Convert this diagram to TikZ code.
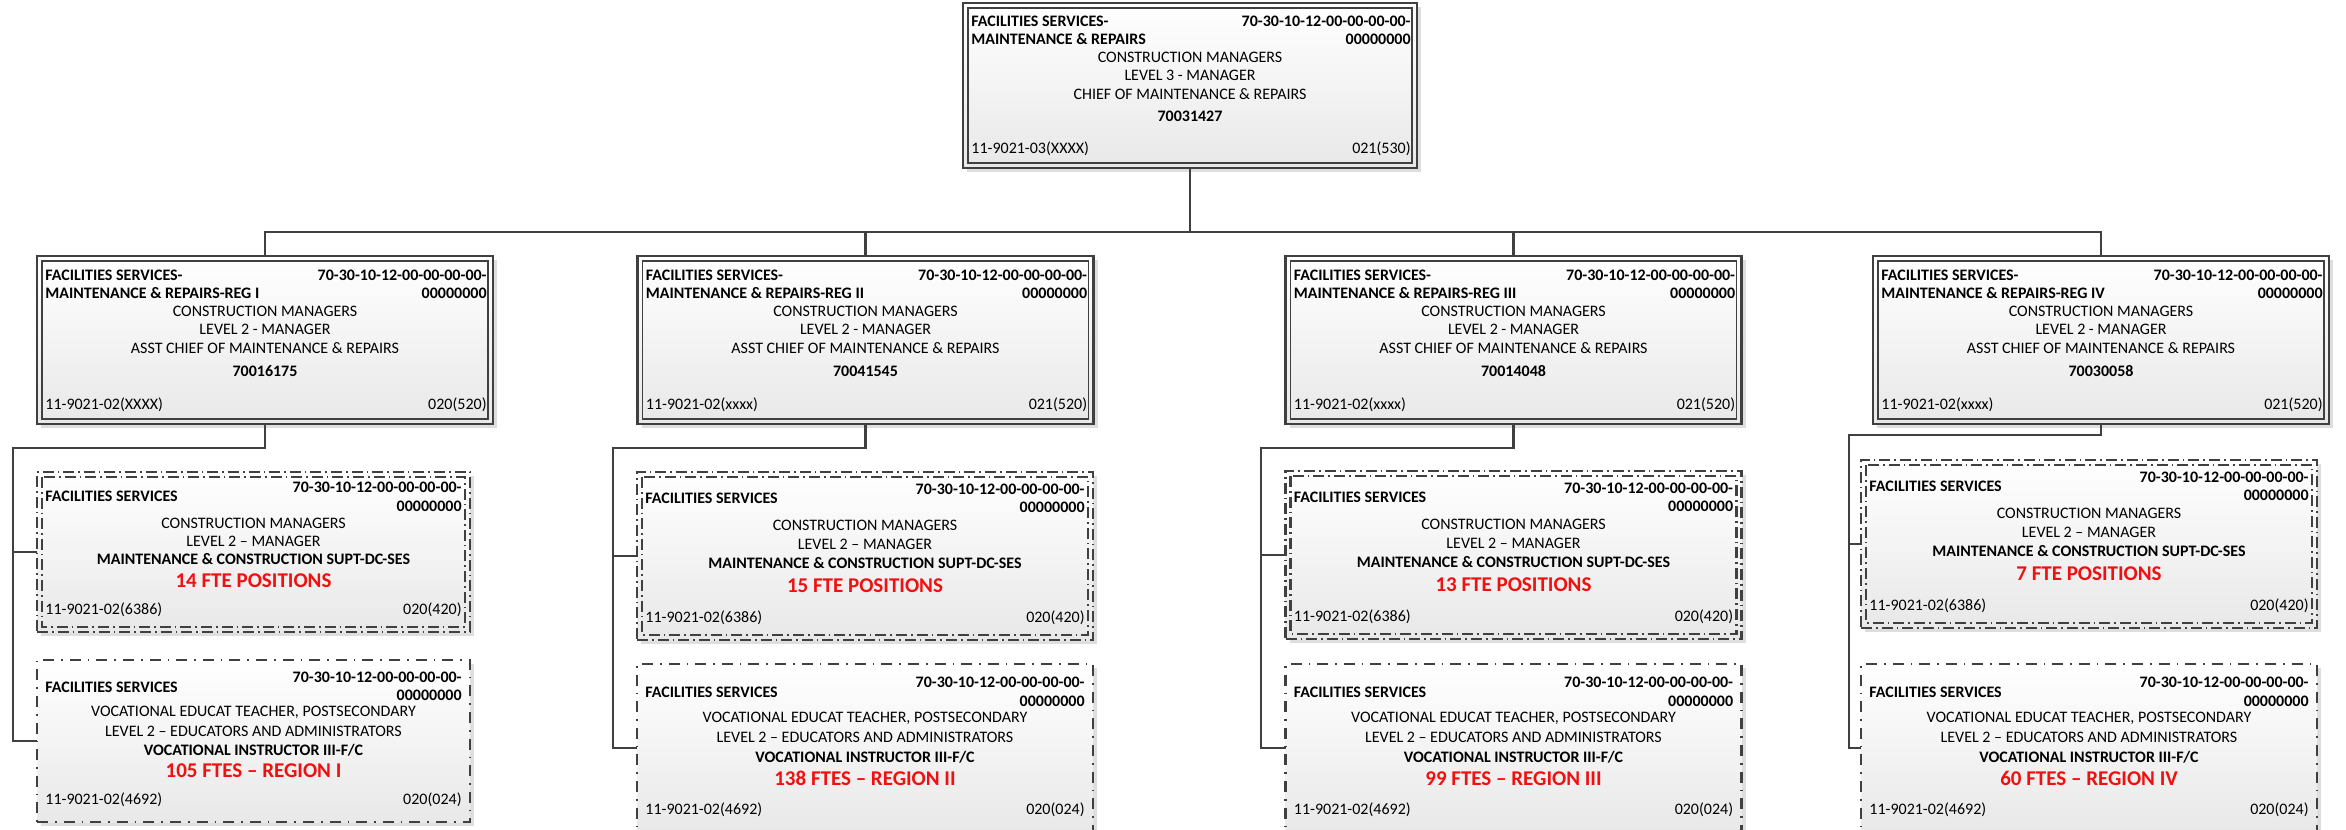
\documentclass[tikz,border=0pt]{standalone}
\usepackage{fontspec}
\setmainfont{Carlito}
\usetikzlibrary{calc,shadows}
\definecolor{lc}{HTML}{404040}
\definecolor{ftered}{HTML}{F01010}
\tikzset{
  conn/.style={draw=lc, line width=1.45pt},
  boxbase/.style={inner sep=0pt, outer sep=0pt, top color=white, bottom color=black!9,
    drop shadow={shadow xshift=2pt, shadow yshift=-2pt, fill=black!25, opacity=0.5}},
  solidbox/.style={boxbase, draw=lc, line width=1.4pt},
  innerframe/.style={draw=lc, line width=0.7pt},
  dashboxa/.style={boxbase, draw=lc, line width=1.1pt, dash pattern=on 5.5pt off 2pt on 0.8pt off 2pt},
  dashinner/.style={draw=lc, line width=1.1pt, dash pattern=on 5.5pt off 2pt on 0.8pt off 2pt},
  dashboxb/.style={boxbase, draw=lc, line width=1.1pt, dash pattern=on 5.5pt off 3.5pt on 0.8pt off 3.5pt},
  txt/.style={inner sep=0pt, font=\fontsize{8}{9}\selectfont},
  btxt/.style={inner sep=0pt, font=\fontsize{8}{9}\selectfont\bfseries},
  rtxt/.style={inner sep=0pt, text=ftered, font=\fontsize{10.5}{12}\selectfont\bfseries},
}
% solid box texts
\newcommand{\SolidText}[9]{%
  \draw[innerframe] ([shift={(2.5pt,-2.5pt)}]#1.north west) rectangle ([shift={(-2.5pt,2.5pt)}]#1.south east);
  \node[btxt, anchor=base west] (#1-l1) at ($(#1.north west)!0.143!(#1.south west)+(4pt,0)$) {#2};
  \node[btxt, anchor=base west] (#1-l2) at ($(#1.north west)!0.25!(#1.south west)+(4pt,0)$) {#3};
  \node[btxt, anchor=base east] (#1-r1) at ($(#1.north east)!0.143!(#1.south east)+(-3pt,0)$) {70-30-10-12-00-00-00-00-};
  \node[btxt, anchor=base east] (#1-r2) at ($(#1.north east)!0.25!(#1.south east)+(-3pt,0)$) {00000000};
  \node[txt, anchor=base] (#1-c1) at ($(#1.north)!0.363!(#1.south)$) {#4};
  \node[txt, anchor=base] (#1-c2) at ($(#1.north)!0.47!(#1.south)$) {#5};
  \node[txt, anchor=base] (#1-c3) at ($(#1.north)!0.583!(#1.south)$) {#6};
  \node[btxt, anchor=base] (#1-n) at ($(#1.north)!0.72!(#1.south)$) {#7};
  \node[txt, anchor=base west] (#1-b1) at ($(#1.north west)!0.911!(#1.south west)+(4pt,0)$) {#8};
  \node[txt, anchor=base east] (#1-b2) at ($(#1.north east)!0.911!(#1.south east)+(-3pt,0)$) {#9};
}
% dashed box A texts
\newcommand{\FteA}[2]{%
  \draw[dashinner] ([shift={(2.5pt,-2.5pt)}]#1.north west) rectangle ([shift={(-2.5pt,2.5pt)}]#1.south east);
  \node[btxt, anchor=base west] (#1-l1) at ($(#1.north west)!0.185!(#1.south west)+(4pt,0)$) {FACILITIES SERVICES};
  \node[btxt, anchor=base east] (#1-r1) at ($(#1.north east)!0.131!(#1.south east)+(-4pt,0)$) {70-30-10-12-00-00-00-00-};
  \node[btxt, anchor=base east] (#1-r2) at ($(#1.north east)!0.244!(#1.south east)+(-4pt,0)$) {00000000};
  \node[txt, anchor=base] (#1-c1) at ($(#1.north)!0.351!(#1.south)$) {CONSTRUCTION MANAGERS};
  \node[txt, anchor=base] (#1-c2) at ($(#1.north)!0.464!(#1.south)$) {LEVEL 2 – MANAGER};
  \node[btxt, anchor=base] (#1-c3) at ($(#1.north)!0.577!(#1.south)$) {MAINTENANCE \& CONSTRUCTION SUPT-DC-SES};
  \node[rtxt, anchor=base] (#1-n) at ($(#1.north)!0.72!(#1.south)$) {#2};
  \node[txt, anchor=base west] (#1-b1) at ($(#1.north west)!0.893!(#1.south west)+(4pt,0)$) {11-9021-02(6386)};
  \node[txt, anchor=base east] (#1-b2) at ($(#1.north east)!0.893!(#1.south east)+(-4pt,0)$) {020(420)};
}
% dashed box B texts
\newcommand{\FteB}[2]{%
  \node[btxt, anchor=base west] (#1-l1) at ($(#1.north west)!0.202!(#1.south west)+(4pt,0)$) {FACILITIES SERVICES};
  \node[btxt, anchor=base east] (#1-r1) at ($(#1.north east)!0.137!(#1.south east)+(-4pt,0)$) {70-30-10-12-00-00-00-00-};
  \node[btxt, anchor=base east] (#1-r2) at ($(#1.north east)!0.25!(#1.south east)+(-4pt,0)$) {00000000};
  \node[txt, anchor=base] (#1-c1) at ($(#1.north)!0.351!(#1.south)$) {VOCATIONAL EDUCAT TEACHER, POSTSECONDARY};
  \node[txt, anchor=base] (#1-c2) at ($(#1.north)!0.47!(#1.south)$) {LEVEL 2 – EDUCATORS AND ADMINISTRATORS};
  \node[btxt, anchor=base] (#1-c3) at ($(#1.north)!0.589!(#1.south)$) {VOCATIONAL INSTRUCTOR III-F/C};
  \node[rtxt, anchor=base] (#1-n) at ($(#1.north)!0.726!(#1.south)$) {#2};
  \node[txt, anchor=base west] (#1-b1) at ($(#1.north west)!0.893!(#1.south west)+(4pt,0)$) {11-9021-02(4692)};
  \node[txt, anchor=base east] (#1-b2) at ($(#1.north east)!0.893!(#1.south east)+(-4pt,0)$) {020(024)};
}
\begin{document}
\begin{tikzpicture}[x=0.5pt, y=-0.5pt]
\useasboundingbox (0,0) rectangle (2346,830);
\fill[white] (0,0) rectangle (2346,830);

% boxes (geometry)
\path node[solidbox, minimum width=227pt, minimum height=82.5pt] (top) at (1190,85.5) {};
\path node[solidbox, minimum width=228pt, minimum height=84pt] (r1) at (265,340) {};
\path node[solidbox, minimum width=228pt, minimum height=84pt] (r2) at (865.5,340) {};
\path node[solidbox, minimum width=228pt, minimum height=84pt] (r3) at (1513.5,340) {};
\path node[solidbox, minimum width=228pt, minimum height=84pt] (r4) at (2101,340) {};

\path node[dashboxa, minimum width=216.5pt, minimum height=80pt] (a1) at (253.5,552) {};
\path node[dashboxb, minimum width=216.5pt, minimum height=81pt] (b1) at (253.5,741) {};
\path node[dashboxa, minimum width=228pt, minimum height=84pt] (a2) at (865,556) {};
\path node[dashboxb, minimum width=228pt, minimum height=84pt] (b2) at (865,748) {};
\path node[dashboxa, minimum width=228pt, minimum height=84pt] (a3) at (1513.5,555) {};
\path node[dashboxb, minimum width=228pt, minimum height=84pt] (b3) at (1513.5,748) {};
\path node[dashboxa, minimum width=228pt, minimum height=84pt] (a4) at (2089,544) {};
\path node[dashboxb, minimum width=228pt, minimum height=84pt] (b4) at (2089,748) {};

% connectors
\coordinate (bus) at (1190,232);
\draw[conn] (top.south) -- (top.south |- bus);
\draw[conn] (r1.north) |- (r4.north |- bus) -- (r4.north);
\draw[conn] (r2.north) -- (r2.north |- bus);
\draw[conn] (r3.north) -- (r3.north |- bus);

\coordinate (c1) at (13,448);
\coordinate (c2) at (613,448);
\coordinate (c3) at (1261,448);
\coordinate (c4) at (1849,435);
\draw[conn] (r1.south) |- (c1) |- (a1.west);
\draw[conn] (c1) |- (b1.west);
\draw[conn] (r2.south) |- (c2) |- (a2.west);
\draw[conn] (c2) |- (b2.west);
\draw[conn] (r3.south) |- (c3) |- (a3.west);
\draw[conn] (c3) |- (b3.west);
\draw[conn] (r4.south) |- (c4) |- (a4.west);
\draw[conn] (c4) |- (b4.west);

% texts
\SolidText{top}{FACILITIES SERVICES-}{MAINTENANCE \& REPAIRS}{CONSTRUCTION MANAGERS}{LEVEL 3 - MANAGER}{CHIEF OF MAINTENANCE \& REPAIRS}{70031427}{11-9021-03(XXXX)}{021(530)}
\SolidText{r1}{FACILITIES SERVICES-}{MAINTENANCE \& REPAIRS-REG I}{CONSTRUCTION MANAGERS}{LEVEL 2 - MANAGER}{ASST CHIEF OF MAINTENANCE \& REPAIRS}{70016175}{11-9021-02(XXXX)}{020(520)}
\SolidText{r2}{FACILITIES SERVICES-}{MAINTENANCE \& REPAIRS-REG II}{CONSTRUCTION MANAGERS}{LEVEL 2 - MANAGER}{ASST CHIEF OF MAINTENANCE \& REPAIRS}{70041545}{11-9021-02(xxxx)}{021(520)}
\SolidText{r3}{FACILITIES SERVICES-}{MAINTENANCE \& REPAIRS-REG III}{CONSTRUCTION MANAGERS}{LEVEL 2 - MANAGER}{ASST CHIEF OF MAINTENANCE \& REPAIRS}{70014048}{11-9021-02(xxxx)}{021(520)}
\SolidText{r4}{FACILITIES SERVICES-}{MAINTENANCE \& REPAIRS-REG IV}{CONSTRUCTION MANAGERS}{LEVEL 2 - MANAGER}{ASST CHIEF OF MAINTENANCE \& REPAIRS}{70030058}{11-9021-02(xxxx)}{021(520)}

\FteA{a1}{14 FTE POSITIONS}
\FteA{a2}{15 FTE POSITIONS}
\FteA{a3}{13 FTE POSITIONS}
\FteA{a4}{7 FTE POSITIONS}
\FteB{b1}{105 FTES – REGION I}
\FteB{b2}{138 FTES – REGION II}
\FteB{b3}{99 FTES – REGION III}
\FteB{b4}{60 FTES – REGION IV}
\end{tikzpicture}
\end{document}
